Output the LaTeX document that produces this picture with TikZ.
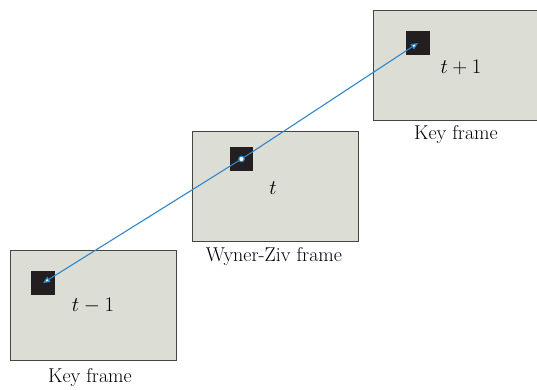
\documentclass[tikz,border=0pt]{standalone}
\usetikzlibrary{arrows.meta}
\definecolor{framefill}{HTML}{DCDED6}
\definecolor{frameedge}{HTML}{454545}
\definecolor{blockc}{HTML}{231F20}
\definecolor{mvblue}{HTML}{2F86C8}
\tikzset{
  frame/.style={draw=frameedge, fill=framefill, line width=1.4pt, minimum width=166pt, minimum height=110pt, inner sep=0pt, anchor=north west},
  block/.style={fill=blockc, minimum size=23.5pt, inner sep=0pt},
  lbl/.style={font=\fontsize{20}{22}\selectfont, inner sep=0pt},
  mv/.style={draw=mvblue, line width=1.1pt, -{Triangle[length=7pt,width=6pt,fill=white]}},
}
\begin{document}
\begin{tikzpicture}[x=1pt,y=-1pt]
\useasboundingbox (0,0) rectangle (537,389);
% frames
\node[frame] (f1) at (10,250) {};
\node[frame] (f2) at (192,131) {};
\node[frame, minimum width=164pt] (f3) at (373,10) {};
% blocks
\node[block] (b1) at (43,283) {};
\node[block] (b2) at (241.5,159) {};
\node[block] (b3) at (418,43) {};
% time labels
\node[lbl] (t1) at (93,306) {$t-1$};
\node[lbl] (t2) at (273,188) {$t$};
\node[lbl] (t3) at (461,67) {$t+1$};
% captions
\node[lbl] (c1) at (90,377) {Key frame};
\node[lbl] (c2) at (274,257) {Wyner-Ziv frame};
\node[lbl] (c3) at (456,135) {Key frame};
% motion vectors
\coordinate (m) at (b2.center);
\draw[mv] (m) -- (b1.center);
\draw[mv] (m) -- (b3.center);
\node[circle, draw=mvblue, fill=white, line width=1.1pt, minimum size=5.5pt, inner sep=0pt] (mc) at (m) {};
\end{tikzpicture}
\end{document}
